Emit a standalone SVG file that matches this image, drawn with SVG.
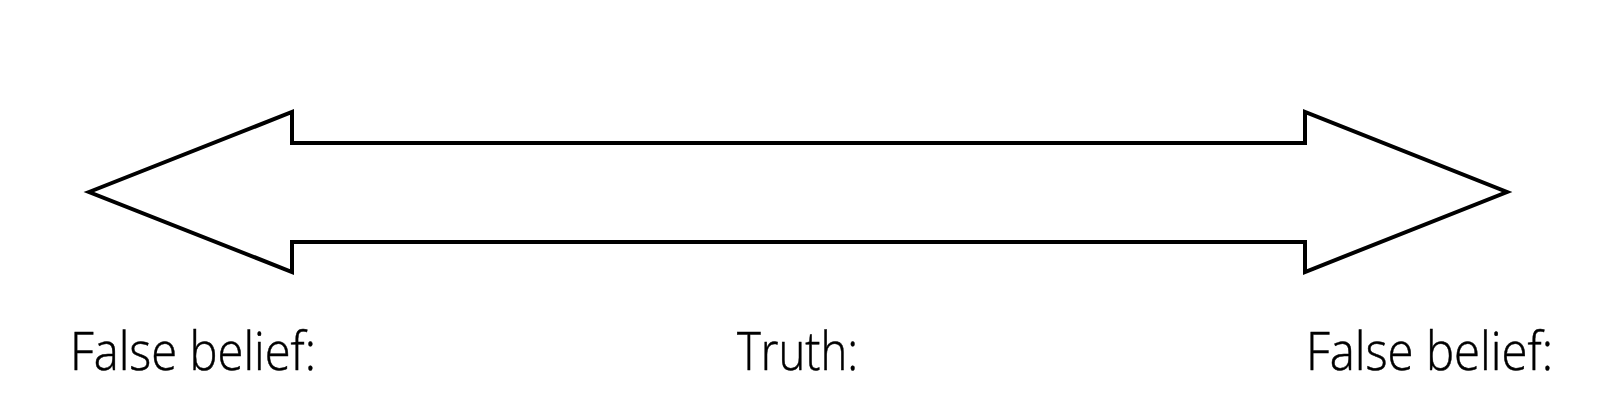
<svg xmlns="http://www.w3.org/2000/svg" width="1600" height="420" viewBox="0 0 1600 420">
<style>
.lbl{font-family:"Open Sans","Noto Sans","Liberation Sans",sans-serif;font-size:53px;font-weight:300;fill:#000;stroke:#000;stroke-width:0.5}
.arrow{fill:#fff;stroke:#000;stroke-width:4;stroke-linejoin:miter}
</style>
<rect width="1600" height="420" fill="#fff"/>
<g id="connectors">
<polygon id="double-arrow" class="arrow" points="89,192 292,112 292,143 1305,143 1305,112 1507,192 1305,272 1305,242 292,242 292,272"/>
</g>
<g id="node-left"><text class="lbl" x="70" y="370" textLength="246" lengthAdjust="spacingAndGlyphs">False belief:</text></g>
<g id="node-center"><text class="lbl" x="737" y="370" textLength="121" lengthAdjust="spacingAndGlyphs">Truth:</text></g>
<g id="node-right"><text class="lbl" x="1306" y="370" textLength="247" lengthAdjust="spacingAndGlyphs">False belief:</text></g>
</svg>
